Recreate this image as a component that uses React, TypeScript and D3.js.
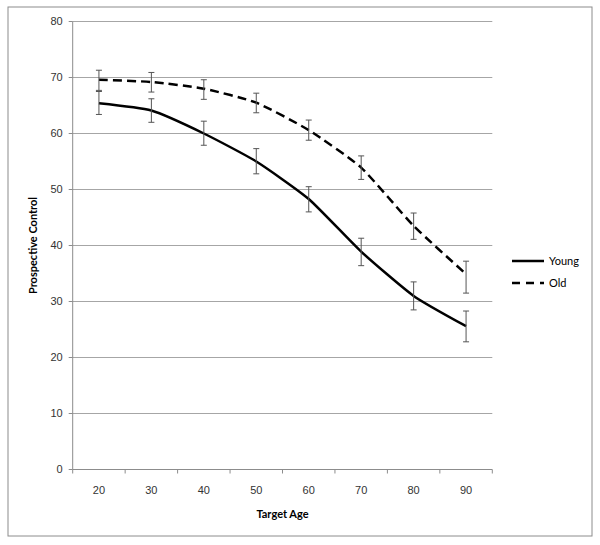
import React from "react";
import * as d3 from "d3";

const ages = [20, 30, 40, 50, 60, 70, 80, 90];
const youngValues = [65.4, 64.1, 60.0, 55.0, 48.3, 38.9, 31.0, 25.6];
const youngLow = [63.4, 62.0, 57.9, 52.8, 46.0, 36.4, 28.5, 22.8];
const youngHigh = [67.5, 66.2, 62.2, 57.3, 50.5, 41.3, 33.5, 28.3];
const oldValues = [69.6, 69.2, 68.0, 65.5, 60.6, 53.9, 43.5, 34.9];
const oldLow = [67.7, 67.4, 66.1, 63.7, 58.8, 51.8, 41.1, 31.5];
const oldHigh = [71.3, 70.9, 69.6, 67.2, 62.4, 56.0, 45.8, 37.2];
const yTicks = [0, 10, 20, 30, 40, 50, 60, 70, 80];

const W = 600;
const H = 545;
const left = 72.7;
const right = 492.3;
const top = 21.5;
const bottom = 469.5;

export default function App() {
  const x = d3
    .scaleBand<number>()
    .domain(ages)
    .range([left, right])
    .padding(0);
  const y = d3.scaleLinear().domain([0, 80]).range([bottom, top]);
  const cx = (a: number) => (x(a) as number) + x.bandwidth() / 2;

  const line = d3
    .line<number>()
    .x((_, i) => cx(ages[i]))
    .y((v) => y(v))
    .curve(d3.curveCardinal.tension(0.45));

  const tickFont = "'Liberation Sans', Arial, sans-serif";
  const labelFont = "Lato, 'Open Sans', sans-serif";

  const errorBars = (lo: number[], hi: number[], key: string) =>
    ages.map((a, i) => {
      const X = cx(a);
      return (
        <g key={key + a} stroke="#555" strokeWidth={1}>
          <line x1={X} x2={X} y1={y(lo[i])} y2={y(hi[i])} />
          <line x1={X - 3} x2={X + 3} y1={y(lo[i])} y2={y(lo[i])} />
          <line x1={X - 3} x2={X + 3} y1={y(hi[i])} y2={y(hi[i])} />
        </g>
      );
    });

  const boundaries = [left, ...ages.map((a) => (x(a) as number) + x.bandwidth())];

  return (
    <svg
      width={W}
      height={H}
      style={{ position: "absolute", left: 0, top: 0, background: "#fff" }}
    >
      <rect x={8} y={7} width={584} height={529} fill="#fff" stroke="#8c8c8c" strokeWidth={1} />
      {yTicks.map((t) => (
        <g key={"g" + t}>
          {t > 0 && (
            <line x1={left} x2={right} y1={y(t)} y2={y(t)} stroke="#a6a6a6" strokeWidth={1} />
          )}
          <line x1={left - 4} x2={left} y1={y(t)} y2={y(t)} stroke="#8c8c8c" />
          <text
            x={left - 10}
            y={y(t)}
            dy="0.35em"
            textAnchor="end"
            fontFamily={tickFont}
            fontSize={11}
            fill="#333"
          >
            {t}
          </text>
        </g>
      ))}
      <line x1={left} x2={left} y1={top} y2={bottom} stroke="#8c8c8c" />
      <line x1={left} x2={right} y1={bottom} y2={bottom} stroke="#8c8c8c" />
      {boundaries.map((b, i) => (
        <line key={"xt" + i} x1={b} x2={b} y1={bottom} y2={bottom + 4} stroke="#8c8c8c" />
      ))}
      {ages.map((a) => (
        <text
          key={"xl" + a}
          x={cx(a)}
          y={490}
          dy="0.35em"
          textAnchor="middle"
          fontFamily={tickFont}
          fontSize={11}
          fill="#333"
        >
          {a}
        </text>
      ))}
      <text
        x={(left + right) / 2}
        y={514}
        dy="0.35em"
        textAnchor="middle"
        fontFamily={labelFont}
        fontWeight="bold"
        fontSize={11}
        fill="#000"
      >
        Target Age
      </text>
      <text
        transform={`translate(33, ${(top + bottom) / 2}) rotate(-90)`}
        dy="0.35em"
        textAnchor="middle"
        fontFamily={labelFont}
        fontWeight="bold"
        fontSize={11}
        fill="#000"
      >
        Prospective Control
      </text>
      <path d={line(youngValues) || ""} fill="none" stroke="#000" strokeWidth={2.5} />
      <path
        d={line(oldValues) || ""}
        fill="none"
        stroke="#000"
        strokeWidth={2.5}
        strokeDasharray="9,5"
      />
      {errorBars(youngLow, youngHigh, "y")}
      {errorBars(oldLow, oldHigh, "o")}
      <line x1={512} x2={544} y1={261} y2={261} stroke="#000" strokeWidth={2.5} />
      <text x={549} y={261} dy="0.35em" fontFamily={labelFont} fontSize={11} fill="#000">
        Young
      </text>
      <line
        x1={512}
        x2={544}
        y1={283}
        y2={283}
        stroke="#000"
        strokeWidth={2.5}
        strokeDasharray="8,6"
      />
      <text x={549} y={283} dy="0.35em" fontFamily={labelFont} fontSize={11} fill="#000">
        Old
      </text>
    </svg>
  );
}
